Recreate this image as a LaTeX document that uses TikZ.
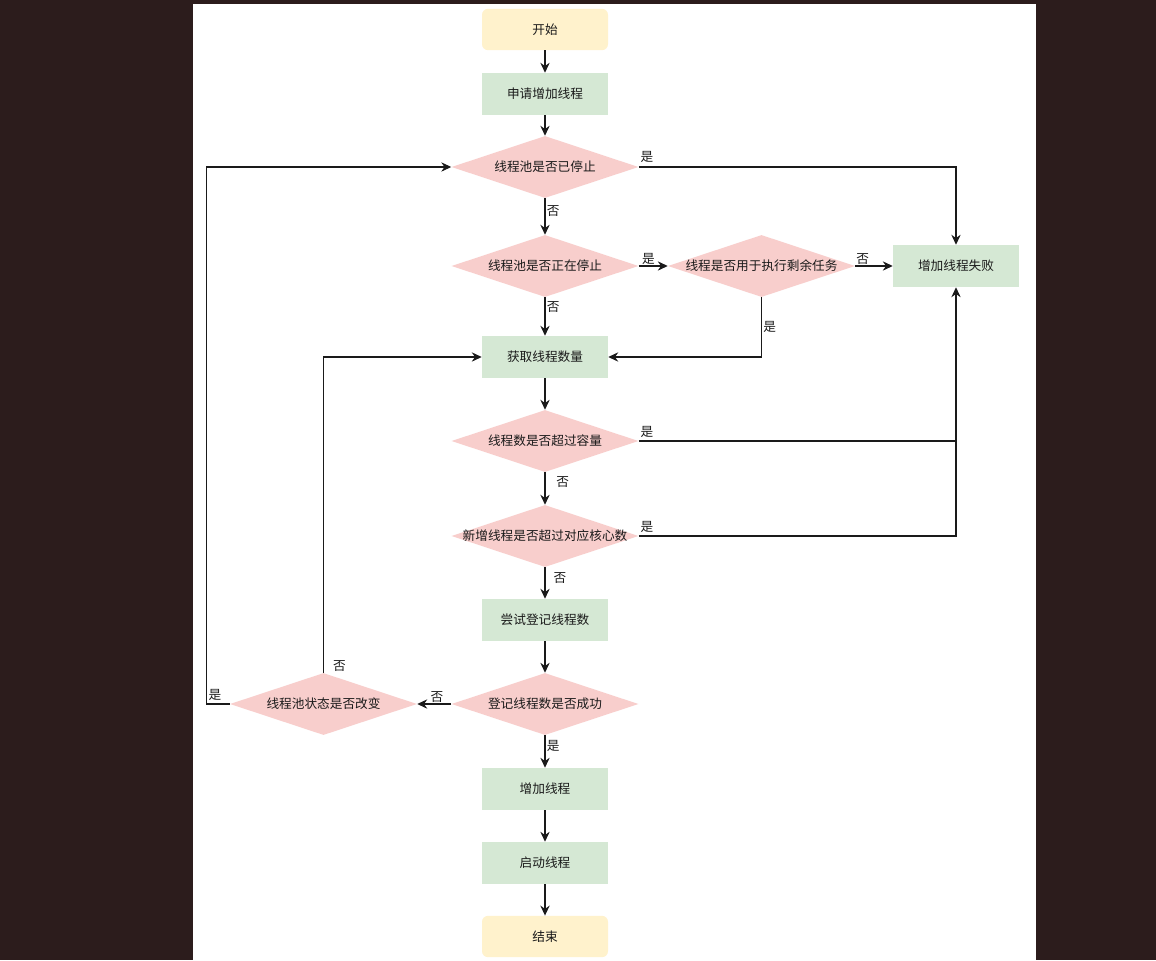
\documentclass[tikz,border=0pt]{standalone}
\usepackage{fontspec}
\setmainfont{Noto Sans CJK SC}
\usepackage{xcolor}
\usetikzlibrary{positioning,calc,shapes.geometric,arrows.meta}

\definecolor{bgdark}{RGB}{44,28,28}
\definecolor{termfill}{HTML}{FFF2CC}
\definecolor{procfill}{HTML}{D5E8D4}
\definecolor{decfill}{HTML}{F8CECC}
\definecolor{linecol}{HTML}{1A1A1A}

\begin{document}
\begin{tikzpicture}[
	x=0.75pt, y=-0.75pt,
	% --- 节点样式 ---
	every node/.style={
		font=\fontsize{9.5pt}{11pt}\selectfont, text=linecol
	},
	term_box/.style={
		rectangle, rounded corners=4.5pt, fill=termfill,
		minimum width=94.5pt, minimum height=31pt, inner sep=0pt
	},
	proc_box/.style={
		rectangle, fill=procfill,
		minimum width=94.5pt, minimum height=31.5pt, inner sep=0pt
	},
	dec_box/.style={
		diamond, aspect=3, fill=decfill,
		minimum width=140.25pt, minimum height=46.5pt,
		inner xsep=-10pt, inner ysep=0pt
	},
	% 连线与箭头
	flow/.style={draw=linecol, line width=0.9pt,
		-{Stealth[length=7.5pt, width=7pt, inset=2.5pt]}},
	plain/.style={draw=linecol, line width=0.9pt},
	% 是/否 标注
	yn_label/.style={inner sep=1pt}
	]
	% 背景
	\useasboundingbox (0,0) rectangle (1156,960);
	\fill[bgdark] (0,0) rectangle (1156,960);
	\fill[white] (193,4) rectangle (1036,960);

	% 主干
	\node[term_box] (start) at (545,29.5) {开始};
	\node[proc_box] (apply) at (545,94) {申请增加线程};
	\node[dec_box] (stopped) at (545,167) {线程池是否已停止};
	\node[dec_box] (stopping) at (545,266) {线程池是否正在停止};
	\node[dec_box] (remain) at (761.5,266) {线程是否用于执行剩余任务};
	\node[proc_box] (fail) at (956,266) {增加线程失败};
	\node[proc_box] (count) at (545,357) {获取线程数量};
	\node[dec_box] (cap) at (545,441) {线程数是否超过容量};
	\node[dec_box] (core) at (545,536) {新增线程是否超过对应核心数};
	\node[proc_box] (reg) at (545,620) {尝试登记线程数};
	\node[dec_box] (regok) at (545,704) {登记线程数是否成功};
	\node[dec_box] (state) at (323.5,704) {线程池状态是否改变};
	\node[proc_box] (add) at (545,789) {增加线程};
	\node[proc_box] (launch) at (545,863) {启动线程};
	\node[term_box] (finish) at (545,936.5) {结束};

	% 连线
	\draw[flow] (start) -- (apply);
	\draw[flow] (apply) -- (stopped);
	\draw[flow] (stopped) -- node[yn_label, right, pos=0.35] {否} (stopping);
	\draw[flow] (stopped.east) -- node[yn_label, above right, pos=0, yshift=2pt] {是} (fail.north |- stopped.east) -- (fail.north);
	\draw[flow] (stopping.east) -- node[yn_label, above, pos=0.33] {是} (remain.west);
	\draw[flow] (remain.east) -- node[yn_label, above, pos=0.2] {否} (fail.west);
	\draw[flow] (stopping) -- node[yn_label, right, pos=0.26] {否} (count);
	\draw[flow] (remain.south) |- node[yn_label, right, pos=0.25] {是} (count.east);
	\draw[flow] (count) -- (cap);
	\draw[plain] (cap.east) -- node[yn_label, above right, pos=0, yshift=1pt] {是} (fail.south |- cap.east);
	\draw[flow] (core.east) -- node[yn_label, above right, pos=0, yshift=1.5pt] {是} (fail.south |- core.east) -- (fail.south);
	\draw[flow] (cap) -- node[yn_label, right=7pt, pos=0.3] {否} (core);
	\draw[flow] (core) -- node[yn_label, right=5pt, pos=0.35] {否} (reg);
	\draw[flow] (reg) -- (regok);
	\draw[flow] (regok.west) -- node[yn_label, above, pos=0.42] {否} (state.east);
	\draw[flow] (state.west) -- ++(-23,0) node[yn_label, above right, yshift=1.5pt] {是} |- (stopped.west);
	\draw[flow] (state.north) |- (count.west);
	\node[yn_label, above right, xshift=6pt] at (state.north) {否};
	\draw[flow] (regok) -- node[yn_label, right, pos=0.33] {是} (add);
	\draw[flow] (add) -- (launch);
	\draw[flow] (launch) -- (finish);
\end{tikzpicture}
\end{document}
